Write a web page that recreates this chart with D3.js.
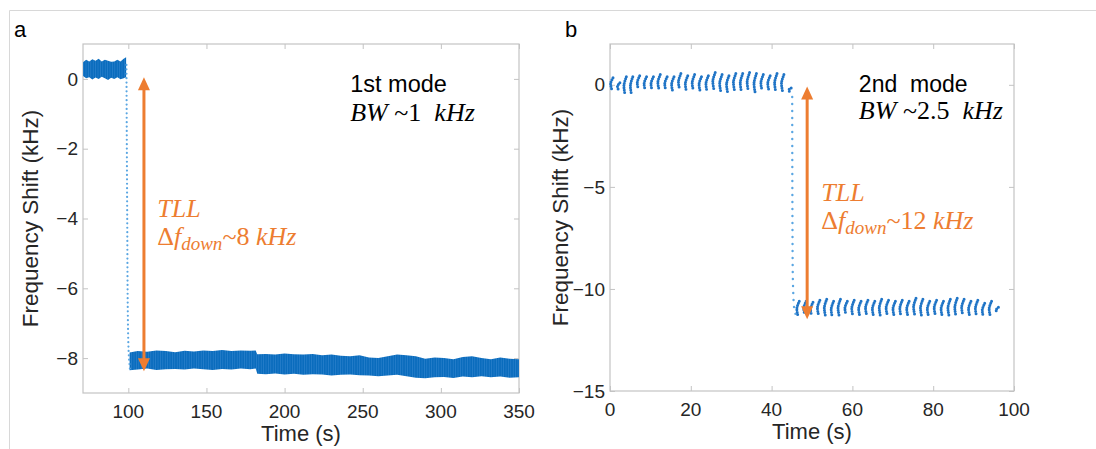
<!DOCTYPE html>
<html><head><meta charset="utf-8">
<script src="https://cdn.jsdelivr.net/npm/d3@7"></script>
<style>body{margin:0;background:#fff}svg{display:block}</style>
</head><body>
<svg id="fig" width="1096" height="449"></svg>
<script>
// ---------- Panel a data (1st mode) ----------
const aXTicks = [100, 150, 200, 250, 300, 350];
const aYTicks = [0, -2, -4, -6, -8];
// dense band before the step: time, upper / lower envelope (kHz)
const aPreT  = [71, 73, 75, 77, 79, 81, 83, 85, 87, 89, 91, 93, 95, 97, 98.6];
const aPreHi = [0.48, 0.55, 0.5, 0.56, 0.52, 0.58, 0.5, 0.55, 0.52, 0.49, 0.5, 0.55, 0.5, 0.58, 0.62];
const aPreLo = [0.08, 0.02, 0.05, -0.02, 0.04, 0.0, 0.06, 0.02, -0.03, 0.03, 0.0, 0.05, -0.01, 0.02, 0.05];
// transition dots
const aDropT = [98.8, 99.3, 99.7, 100.3, 101.0];
const aDropY = [0.4, -4.0, -6.8, -7.9, -8.3];
// dense band after the step
const aPostT  = [100.8, 106, 112, 118, 124, 130, 136, 142, 148, 154, 160, 166, 172, 178, 181.5, 182.5, 188, 194, 200, 206, 212, 218, 224, 230, 236, 242, 248, 254, 260, 266, 272, 278, 284, 290, 296, 302, 308, 314, 320, 326, 332, 338, 344, 350];
const aPostHi = [-7.84, -7.8, -7.82, -7.78, -7.8, -7.83, -7.79, -7.81, -7.78, -7.8, -7.77, -7.8, -7.78, -7.79, -7.78, -7.89, -7.88, -7.9, -7.87, -7.89, -7.9, -7.88, -7.92, -7.9, -7.93, -7.95, -7.92, -7.98, -8.0, -7.95, -7.9, -7.92, -7.95, -8.02, -7.98, -8.0, -8.03, -7.97, -7.95, -8.0, -8.03, -7.98, -8.02, -8.03];
const aPostLo = [-8.35, -8.33, -8.3, -8.34, -8.32, -8.31, -8.33, -8.3, -8.32, -8.34, -8.31, -8.33, -8.3, -8.32, -8.3, -8.45, -8.46, -8.44, -8.47, -8.45, -8.48, -8.46, -8.47, -8.5, -8.48, -8.47, -8.49, -8.5, -8.52, -8.5, -8.48, -8.52, -8.56, -8.58, -8.55, -8.54, -8.57, -8.53, -8.55, -8.52, -8.55, -8.53, -8.56, -8.55];

// ---------- Panel b data (2nd mode) ----------
const bXTicks = [0, 20, 40, 60, 80, 100];
const bYTicks = [0, -5, -10, -15];
const bPreT   = [0.3, 2.0, 3.6, 5.2, 6.9, 8.6, 10.3, 12.0, 13.7, 15.4, 17.1, 18.8, 20.5, 22.2, 23.9, 25.6, 27.3, 29.0, 30.7, 32.4, 34.1, 35.8, 37.5, 39.2, 40.9, 42.6, 44.4];
const bPreTop = [0.35, 0.1, 0.4, 0.4, 0.45, 0.4, 0.4, 0.5, 0.4, 0.4, 0.55, 0.45, 0.5, 0.4, 0.45, 0.6, 0.5, 0.45, 0.55, 0.55, 0.6, 0.55, 0.5, 0.45, 0.55, 0.5, -0.15];
const bPreBot = [-0.2, -0.25, -0.45, -0.45, -0.2, -0.25, -0.25, -0.2, -0.25, -0.3, -0.2, -0.3, -0.25, -0.3, -0.3, -0.2, -0.3, -0.35, -0.25, -0.3, -0.25, -0.35, -0.25, -0.25, -0.3, -0.3, -0.35];
const bDropT = [45.1, 45.2, 45.4, 45.7, 46.1];
const bDropY = [-0.6, -8.5, -10.4, -11.1, -11.3];
const bPostT   = [46.4, 48.1, 49.8, 51.5, 53.2, 54.9, 56.6, 58.3, 60.0, 61.7, 63.4, 65.1, 66.8, 68.5, 70.2, 71.9, 73.6, 75.3, 77.0, 78.7, 80.4, 82.1, 83.8, 85.5, 87.2, 88.9, 90.6, 92.3, 94.0, 95.7];
const bPostTop = [-10.6, -10.6, -10.65, -10.55, -10.5, -10.6, -10.5, -10.6, -10.55, -10.6, -10.55, -10.6, -10.5, -10.55, -10.6, -10.55, -10.6, -10.45, -10.5, -10.6, -10.55, -10.6, -10.5, -10.45, -10.5, -10.6, -10.55, -10.7, -10.6, -10.9];
const bPostBot = [-11.3, -11.25, -11.3, -11.25, -11.3, -11.35, -11.3, -11.25, -11.3, -11.3, -11.25, -11.3, -11.3, -11.25, -11.3, -11.3, -11.3, -11.25, -11.3, -11.3, -11.25, -11.3, -11.3, -11.3, -11.25, -11.3, -11.3, -11.35, -11.3, -11.15];

const svg = d3.select('#fig');
const BLUE = '#0a6cbd', DOT = '#1f74c6', DOT_LIGHT = '#5aa6e2', ORANGE = '#ED7D31';
const AXC = '#c3c3c3', TXT = '#262626';
const SANS = '"Liberation Sans", Arial, Helvetica, sans-serif';
const SERIF = '"Liberation Serif", "DejaVu Serif", serif';
const minus = v => String(v).replace('-', '\u2212');

// outer frame
svg.append('path').attr('d', 'M9.5,449 V10.5 H1096').attr('fill', 'none').attr('stroke', '#d8d8d8').attr('stroke-width', 1);

// pattern for dense scatter band
const defs = svg.append('defs');
const pat = defs.append('pattern').attr('id', 'dense').attr('patternUnits', 'userSpaceOnUse').attr('width', 2.4).attr('height', 4);
pat.append('rect').attr('width', 2.4).attr('height', 4).attr('fill', BLUE);
pat.append('rect').attr('x', 1.6).attr('width', 0.6).attr('height', 4).attr('fill', '#3d8ed3').attr('opacity', 0.7);

function makeAxes(box, xDom, yDom, xTicks, yTicks) {
  const x = d3.scaleLinear().domain(xDom).range([box.left, box.right]);
  const y = d3.scaleLinear().domain(yDom).range([box.bottom, box.top]);
  const g = svg.append('g');
  const tl = 5;
  const ax = [
    d3.axisBottom(x).tickValues(xTicks).tickSize(-tl).tickFormat(''),
    d3.axisTop(x).tickValues(xTicks).tickSize(-tl).tickFormat(''),
    d3.axisLeft(y).tickValues(yTicks).tickSize(-tl).tickFormat(''),
    d3.axisRight(y).tickValues(yTicks).tickSize(-tl).tickFormat('')
  ];
  const tr = [`translate(0,${box.bottom})`, `translate(0,${box.top})`, `translate(${box.left},0)`, `translate(${box.right},0)`];
  ax.forEach((a, i) => {
    const gg = g.append('g').attr('transform', tr[i]).call(a);
    gg.selectAll('path,line').attr('stroke', AXC).attr('stroke-width', 1);
    gg.select('.domain').remove();
  });
  g.append('rect').attr('x', box.left).attr('y', box.top).attr('width', box.right - box.left).attr('height', box.bottom - box.top)
    .attr('fill', 'none').attr('stroke', AXC).attr('stroke-width', 1.2);
  // tick labels
  g.selectAll('.xl').data(xTicks).enter().append('text')
    .attr('x', d => x(d)).attr('y', box.bottom + 25).attr('text-anchor', 'middle')
    .attr('font-family', SANS).attr('font-size', 19).attr('fill', TXT).text(d => minus(d));
  g.selectAll('.yl').data(yTicks).enter().append('text')
    .attr('x', box.left - 5).attr('y', d => y(d)).attr('dy', '0.35em').attr('text-anchor', 'end')
    .attr('font-family', SANS).attr('font-size', 19).attr('fill', TXT).text(d => minus(d));
  g.append('text').attr('x', (box.left + box.right) / 2).attr('y', box.bottom + 48).attr('text-anchor', 'middle')
    .attr('font-family', SANS).attr('font-size', 22).attr('fill', TXT).text('Time (s)');
  g.append('text').attr('transform', `translate(${box.ylab},${(box.top + box.bottom) / 2}) rotate(-90)`).attr('text-anchor', 'middle')
    .attr('font-family', SANS).attr('font-size', 22.5).attr('fill', TXT).text('Frequency Shift (kHz)');
  return {x, y};
}

function dotted(g, pts, color, w, gap, curve) {
  g.append('path').attr('d', d3.line().x(p => p[0]).y(p => p[1]).curve(curve || d3.curveLinear)(pts))
    .attr('fill', 'none').attr('stroke', color).attr('stroke-width', w).attr('stroke-linecap', 'round')
    .attr('stroke-dasharray', `0 ${gap}`);
}

function arrow(g, xp, y1, y2) {
  const hl = 13, hw = 6;
  g.append('line').attr('x1', xp).attr('x2', xp).attr('y1', y1 + hl - 1).attr('y2', y2 - hl + 1)
    .attr('stroke', ORANGE).attr('stroke-width', 3);
  g.append('path').attr('d', `M${xp},${y1} L${xp - hw},${y1 + hl} L${xp + hw},${y1 + hl} Z`).attr('fill', ORANGE);
  g.append('path').attr('d', `M${xp},${y2} L${xp - hw},${y2 - hl} L${xp + hw},${y2 - hl} Z`).attr('fill', ORANGE);
}

function mathLine(g, x, y, parts, size, color) {
  const t = g.append('text').attr('x', x).attr('y', y).attr('font-family', SERIF).attr('font-size', size).attr('fill', color)
    .style('white-space', 'pre');
  parts.forEach(p => {
    const s = t.append('tspan').text(p.t).attr('font-style', p.i ? 'italic' : 'normal');
    if (p.fs) s.attr('font-size', p.fs);
    if (p.dy) s.attr('dy', p.dy);
  });
}

// ---------- panel a ----------
const A = {left: 83, right: 519, top: 44, bottom: 393, ylab: 38};
const sa = makeAxes(A, [71, 350], [-9, 1], aXTicks, aYTicks);
const ga = svg.append('g');
const areaA = d3.area().x(d => sa.x(d[0])).y0(d => sa.y(d[2])).y1(d => sa.y(d[1]));
ga.append('path').attr('d', areaA(aPreT.map((t, i) => [t, aPreHi[i], aPreLo[i]]))).attr('fill', 'url(#dense)');
ga.append('path').attr('d', areaA(aPostT.map((t, i) => [t, aPostHi[i], aPostLo[i]]))).attr('fill', 'url(#dense)');
dotted(ga, aDropT.map((t, i) => [sa.x(t), sa.y(aDropY[i])]), DOT_LIGHT, 2.2, 4.4, d3.curveMonotoneY);
arrow(ga, sa.x(110), sa.y(0.05), sa.y(-8.38));
svg.append('text').attr('x', 14).attr('y', 37).attr('font-family', SANS).attr('font-size', 22).attr('fill', '#000').text('a');
svg.append('text').attr('x', sa.x(242)).attr('y', sa.y(-0.38)).attr('font-family', SANS).attr('font-size', 23.5).attr('fill', '#000').text('1st mode');
mathLine(svg, sa.x(242), sa.y(-1.2), [{t: 'BW', i: 1}, {t: ' ~1  '}, {t: 'kHz', i: 1}], 26, '#000');
mathLine(svg, sa.x(118.5), sa.y(-3.96), [{t: 'TLL', i: 1}], 26, ORANGE);
mathLine(svg, sa.x(118.5), sa.y(-4.77), [{t: 'Δ'}, {t: 'f', i: 1}, {t: 'down', i: 1, fs: 19, dy: 5}, {t: '~8 ', dy: -5}, {t: 'kHz', i: 1}], 26, ORANGE);

// ---------- panel b ----------
const B = {left: 610, right: 1014, top: 44, bottom: 391, ylab: 568};
const sb = makeAxes(B, [0, 100], [-15, 2], bXTicks, bYTicks);
const gb = svg.append('g');
function column(t, top, bot) {
  const pts = [[sb.x(t) + 1.8, sb.y(top)], [sb.x(t) - 0.6, sb.y((top + bot) / 2)], [sb.x(t) + 0.4, sb.y(bot)]];
  dotted(gb, pts, DOT, 3, 2.3, d3.curveCatmullRom);
}
bPreT.forEach((t, i) => column(t, bPreTop[i], bPreBot[i]));
dotted(gb, bDropT.map((t, i) => [sb.x(t), sb.y(bDropY[i])]), DOT_LIGHT, 2.4, 7, d3.curveMonotoneY);
bPostT.forEach((t, i) => column(t, bPostTop[i], bPostBot[i]));
arrow(gb, sb.x(48.8), sb.y(-0.08), sb.y(-11.48));
svg.append('text').attr('x', 565).attr('y', 37).attr('font-family', SANS).attr('font-size', 22).attr('fill', '#000').text('b');
svg.append('text').attr('x', sb.x(61.6)).attr('y', sb.y(-0.36)).attr('font-family', SANS).attr('font-size', 23).attr('fill', '#000')
  .style('white-space', 'pre').text('2nd  mode');
mathLine(svg, sb.x(61.6), sb.y(-1.67), [{t: 'BW', i: 1}, {t: ' ~2.5  '}, {t: 'kHz', i: 1}], 26, '#000');
mathLine(svg, sb.x(52.3), sb.y(-5.7), [{t: 'TLL', i: 1}], 26, ORANGE);
mathLine(svg, sb.x(52.3), sb.y(-7.06), [{t: 'Δ'}, {t: 'f', i: 1}, {t: 'down', i: 1, fs: 19, dy: 5}, {t: '~12 ', dy: -5}, {t: 'kHz', i: 1}], 26, ORANGE);
</script>
</body></html>
